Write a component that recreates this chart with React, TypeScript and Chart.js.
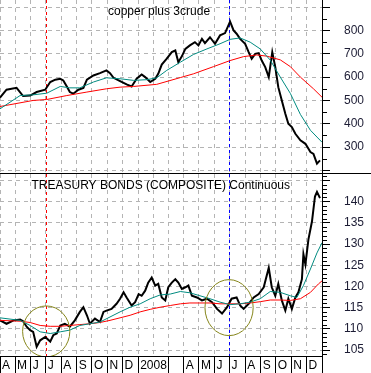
import { useEffect, useRef } from 'react';
import { Chart, registerables } from 'chart.js';

Chart.register(...registerables);

// ---------- data ----------
// x values are calendar days counted from 1 April 2007
const monthTickDays = [0, 30, 61, 91, 122, 153, 183, 214, 244, 275, 306, 335, 366, 396, 427, 457, 488, 519, 549, 580, 610];
const monthLabels = ['A', 'M', 'J', 'J', 'A', 'S', 'O', 'N', 'D', '2008', '', '', 'A', 'M', 'J', 'J', 'A', 'S', 'O', 'N', 'D'];

const copperDays = [0, 13, 33, 46, 60, 73, 90, 100, 110, 120, 126, 133, 139, 146, 156, 166, 173, 186, 199, 212, 219, 226, 239, 252, 262, 272, 282, 289, 299, 309, 315, 322, 332, 342, 349, 355, 362, 369, 378, 388, 395, 402, 408, 418, 428, 438, 448, 458, 465, 471, 478, 488, 495, 501, 508, 515, 521, 528, 535, 542, 548, 554, 561, 568, 574, 581, 588, 598, 608, 618, 624, 631, 637];
const copperValues = [512, 546, 554, 519, 521, 536, 546, 579, 589, 593, 586, 560, 536, 529, 546, 554, 589, 607, 617, 629, 617, 597, 583, 569, 560, 593, 611, 600, 579, 593, 614, 654, 679, 707, 714, 664, 689, 721, 736, 750, 736, 764, 746, 771, 743, 779, 789, 838, 800, 786, 764, 743, 707, 679, 700, 703, 671, 643, 600, 707, 643, 557, 500, 443, 400, 386, 357, 329, 314, 279, 271, 229, 243];

const copperTealDays = [0, 40, 66, 93, 120, 139, 159, 186, 212, 239, 266, 292, 312, 332, 359, 385, 412, 438, 458, 478, 498, 518, 538, 558, 578, 598, 618, 631, 641];
const copperTealValues = [464, 521, 524, 531, 560, 554, 554, 579, 597, 593, 586, 589, 597, 629, 664, 697, 721, 743, 762, 768, 750, 721, 673, 600, 530, 440, 372, 343, 321];

const copperRedDays = [0, 66, 93, 133, 173, 212, 239, 266, 312, 359, 385, 425, 458, 485, 511, 531, 558, 578, 598, 624, 641];
const copperRedValues = [474, 500, 504, 521, 536, 550, 557, 560, 569, 598, 614, 645, 671, 688, 695, 690, 674, 645, 600, 550, 514];

const bondDays = [0, 13, 27, 40, 46, 53, 60, 66, 73, 80, 90, 100, 106, 113, 120, 129, 139, 149, 159, 166, 173, 179, 189, 199, 206, 212, 222, 232, 239, 246, 252, 262, 269, 276, 282, 289, 295, 302, 309, 315, 322, 329, 335, 342, 349, 355, 362, 369, 375, 382, 392, 402, 412, 422, 432, 442, 452, 461, 471, 478, 485, 495, 505, 515, 525, 535, 541, 548, 554, 561, 568, 574, 581, 588, 594, 601, 604, 608, 614, 621, 627, 631, 637];
const bondValues = [112.0, 111.2, 112.0, 112.2, 111.8, 110.5, 109.7, 109.3, 105.8, 107.3, 108.1, 107.0, 108.5, 108.9, 110.8, 111.2, 110.5, 112.0, 114.0, 115.1, 113.2, 111.2, 112.4, 111.6, 114.0, 114.3, 114.7, 115.9, 117.1, 118.6, 117.4, 115.5, 116.3, 118.2, 117.8, 119.0, 120.9, 122.1, 120.2, 120.6, 117.4, 116.7, 119.8, 120.9, 121.7, 120.9, 119.4, 119.8, 120.2, 117.8, 117.4, 116.7, 117.1, 116.3, 114.7, 113.6, 115.1, 117.1, 117.4, 115.5, 114.7, 115.9, 117.4, 118.2, 119.8, 124.4, 119.8, 117.8, 120.6, 116.7, 114.3, 117.1, 114.7, 117.4, 118.6, 121.7, 127.6, 125.2, 131.1, 135.3, 141.2, 142.3, 140.8];

const bondTealDays = [0, 40, 60, 80, 100, 120, 139, 159, 179, 199, 219, 239, 259, 279, 299, 319, 339, 359, 378, 398, 418, 438, 458, 478, 498, 518, 538, 558, 578, 591, 604, 618, 631, 641];
const bondTealValues = [112.6, 112.0, 110.8, 109.3, 108.9, 109.3, 109.7, 110.8, 111.2, 111.6, 112.8, 114.0, 115.1, 115.9, 117.1, 118.0, 118.2, 118.8, 118.5, 117.8, 117.1, 116.3, 115.7, 115.9, 116.3, 117.1, 118.8, 118.6, 117.8, 117.4, 120.2, 124.1, 127.9, 130.3];

const bondRedDays = [0, 40, 60, 80, 100, 120, 139, 159, 179, 199, 219, 239, 259, 279, 299, 319, 339, 359, 378, 398, 418, 438, 458, 478, 498, 518, 538, 558, 578, 598, 618, 634, 641];
const bondRedValues = [112.0, 111.8, 111.5, 110.8, 110.6, 110.6, 110.8, 111.0, 111.2, 111.5, 112.0, 112.6, 113.2, 114.0, 114.6, 115.1, 115.5, 115.9, 116.1, 116.1, 116.1, 115.9, 115.9, 115.9, 116.1, 116.4, 116.8, 116.8, 116.7, 117.1, 118.6, 120.6, 121.3];

const copperTicks = [200, 300, 400, 500, 600, 700, 800, 900];
const copperLabels = [300, 400, 500, 600, 700, 800];
const copperMinor = [250, 350, 450, 550, 650, 750, 850];

const bondTicks = [105, 110, 115, 120, 125, 130, 135, 140, 145];
const bondLabels = [105, 110, 115, 120, 125, 130, 135, 140];
const bondMinor = [104, 106, 107, 108, 109, 111, 112, 113, 114, 116, 117, 118, 119, 121, 122, 123, 124, 126, 127, 128, 129, 131, 132, 133, 134, 136, 137, 138, 139, 141, 142, 143, 144, 146];

const markerDays = [91, 456];
const markerColors = ['#ff0000', '#0000ff'];

// ellipses: [centre day, centre value, radius days, radius value]
const circleCentreDays = [92, 456];
const circleCentreValues = [109.4, 115.0];
const circleRadiusDays = [47, 48];
const circleRadiusValues = [6.0, 6.6];

const topTitle = 'copper plus 3crude';
const bottomTitle = 'TREASURY BONDS (COMPOSITE) Continuous';

// ---------- styling ----------
const FONT = "'Liberation Sans', Arial, Helvetica, sans-serif";
const GRID = '#b4b4b4';
const LABEL = '#1c1c34';
const TEAL = '#008b80';
const RED = '#ff0000';
const OLIVE = '#85851a';
const W = 371;
const TOP_H = 174;
const BOT_H = 199;

const pairs = (xs: number[], ys: number[]) => xs.map((x, i) => ({ x, y: ys[i] }));

function lineDs(xs: number[], ys: number[], color: string, width: number) {
  return {
    data: pairs(xs, ys),
    borderColor: color,
    borderWidth: width,
    pointRadius: 0,
    tension: 0,
    fill: false,
  };
}

function drawMarkers(chart: any) {
  const { ctx, chartArea } = chart;
  const xs = chart.scales.x;
  ctx.save();
  ctx.lineWidth = 1;
  ctx.setLineDash([3, 3]);
  markerDays.forEach((d, i) => {
    const x = Math.round(xs.getPixelForValue(d)) + 0.5;
    ctx.strokeStyle = markerColors[i];
    ctx.beginPath();
    ctx.moveTo(x, chartArea.top);
    ctx.lineTo(x, chartArea.bottom);
    ctx.stroke();
  });
  ctx.restore();
}

function drawMinor(chart: any, values: number[]) {
  const { ctx } = chart;
  const ys = chart.scales.y;
  ctx.save();
  ctx.strokeStyle = '#000';
  ctx.lineWidth = 1;
  values.forEach((v) => {
    const y = Math.round(ys.getPixelForValue(v)) + 0.5;
    if (y < 0 || y > chart.chartArea.bottom) return;
    ctx.beginPath();
    ctx.moveTo(ys.left, y);
    ctx.lineTo(ys.left + 5, y);
    ctx.stroke();
  });
  ctx.restore();
}

function drawTitle(chart: any, text: string, x: number, y: number) {
  const { ctx } = chart;
  ctx.save();
  ctx.font = `12px ${FONT}`;
  ctx.fillStyle = '#000';
  ctx.textBaseline = 'alphabetic';
  ctx.textAlign = 'left';
  ctx.fillText(text, x, y);
  ctx.restore();
}

function yScale(min: number, max: number, ticks: number[], labels: number[]) {
  return {
    type: 'linear' as const,
    position: 'right' as const,
    min,
    max,
    afterBuildTicks: (s: any) => {
      s.ticks = ticks.map((v) => ({ value: v }));
    },
    afterFit: (s: any) => {
      s.width = W - 322;
      s.paddingTop = 0;
      s.paddingBottom = 0;
    },
    ticks: {
      autoSkip: false,
      padding: 14,
      color: LABEL,
      font: { family: FONT, size: 12 },
      callback: (v: any) => (labels.includes(Number(v)) ? String(v) : ''),
    },
    grid: { color: GRID, lineWidth: 1, drawTicks: true, tickLength: 8, tickColor: '#000', tickWidth: 1 },
    border: { display: true, color: '#000', width: 1, dash: [4, 4] },
  };
}

export default function App() {
  const topRef = useRef<HTMLCanvasElement | null>(null);
  const botRef = useRef<HTMLCanvasElement | null>(null);

  useEffect(() => {
    document.body.style.margin = '0';
    if (!topRef.current || !botRef.current) return;

    const topPlugin = {
      id: 'topOverlay',
      beforeDatasetsDraw: (chart: any) => drawMarkers(chart),
      afterDraw: (chart: any) => {
        drawMinor(chart, copperMinor);
        drawTitle(chart, topTitle, 108, 14.5);
        const { ctx } = chart;
        ctx.save();
        ctx.fillStyle = '#000';
        ctx.fillRect(0, TOP_H - 1, W, 1);
        ctx.restore();
      },
    };

    const botPlugin = {
      id: 'botOverlay',
      beforeDatasetsDraw: (chart: any) => drawMarkers(chart),
      afterDatasetsDraw: (chart: any) => {
        const { ctx, chartArea } = chart;
        const xs = chart.scales.x;
        const ys = chart.scales.y;
        ctx.save();
        ctx.beginPath();
        ctx.rect(chartArea.left, chartArea.top, chartArea.right - chartArea.left, chartArea.bottom - chartArea.top);
        ctx.clip();
        ctx.strokeStyle = OLIVE;
        ctx.lineWidth = 1;
        circleCentreDays.forEach((d, i) => {
          const cx = xs.getPixelForValue(d);
          const cy = ys.getPixelForValue(circleCentreValues[i]);
          const rx = Math.abs(xs.getPixelForValue(d + circleRadiusDays[i]) - cx);
          const ry = Math.abs(ys.getPixelForValue(circleCentreValues[i] + circleRadiusValues[i]) - cy);
          ctx.beginPath();
          ctx.ellipse(cx, cy, rx, ry, 0, 0, Math.PI * 2);
          ctx.stroke();
        });
        ctx.restore();
      },
      afterDraw: (chart: any) => {
        drawMinor(chart, bondMinor);
        drawTitle(chart, bottomTitle, 31.5, 15);
        const { ctx, chartArea } = chart;
        const ys = chart.scales.y;
        const x = Math.round(ys.left - 0.5) + 0.5;
        ctx.save();
        ctx.strokeStyle = '#000';
        ctx.lineWidth = 1;
        ctx.beginPath();
        ctx.moveTo(x, chartArea.bottom);
        ctx.lineTo(x, BOT_H);
        ctx.stroke();
        ctx.restore();
      },
    };

    const common = {
      animation: false as const,
      responsive: false,
      events: [] as any[],
      layout: { padding: 0 },
      plugins: { legend: { display: false }, tooltip: { enabled: false }, title: { display: false } },
    };

    const top = new Chart(topRef.current, {
      type: 'line',
      data: {
        datasets: [
          lineDs(copperTealDays, copperTealValues, TEAL, 1),
          lineDs(copperRedDays, copperRedValues, RED, 1),
          lineDs(copperDays, copperValues, '#000', 2),
        ],
      },
      options: {
        ...common,
        scales: {
          x: {
            type: 'linear',
            min: 0,
            max: 641,
            afterBuildTicks: (s: any) => {
              s.ticks = monthTickDays.map((v) => ({ value: v }));
            },
            afterFit: (s: any) => {
              s.height = 0;
              s.paddingLeft = 0;
              s.paddingRight = 0;
            },
            ticks: { display: false },
            grid: { color: GRID, drawTicks: false },
            border: { display: false, dash: [4, 4] },
          },
          y: yScale(184.6, 930.7, copperTicks, copperLabels),
        },
      } as any,
      plugins: [topPlugin],
    });

    const bottom = new Chart(botRef.current, {
      type: 'line',
      data: {
        datasets: [
          lineDs(bondTealDays, bondTealValues, TEAL, 1),
          lineDs(bondRedDays, bondRedValues, RED, 1),
          lineDs(bondDays, bondValues, '#000', 2),
        ],
      },
      options: {
        ...common,
        scales: {
          x: {
            type: 'linear',
            min: 0,
            max: 641,
            afterBuildTicks: (s: any) => {
              s.ticks = monthTickDays.map((v) => ({ value: v }));
            },
            afterFit: (s: any) => {
              s.height = 17;
              s.paddingLeft = 0;
              s.paddingRight = 0;
            },
            ticks: {
              autoSkip: false,
              maxRotation: 0,
              minRotation: 0,
              align: 'start',
              labelOffset: 2,
              padding: -15,
              color: '#000',
              font: { family: FONT, size: 12 },
              callback: (_v: any, i: number) => monthLabels[i],
            },
            grid: {
              color: GRID,
              drawTicks: true,
              tickLength: 17,
              tickWidth: 1,
              tickColor: (c: any) => (monthLabels[c.index - 1] === '2008' ? 'rgba(0,0,0,0)' : '#000'),
            },
            border: { display: true, color: '#000', width: 1, dash: [4, 4] },
          },
          y: yScale(103.6, 146.5, bondTicks, bondLabels),
        },
      } as any,
      plugins: [botPlugin],
    });

    return () => {
      top.destroy();
      bottom.destroy();
    };
  }, []);

  return (
    <div style={{ position: 'absolute', left: 0, top: 0, width: W, height: TOP_H + BOT_H, background: '#fff' }}>
      <canvas ref={topRef} width={W} height={TOP_H} style={{ display: 'block', width: W, height: TOP_H }} />
      <canvas ref={botRef} width={W} height={BOT_H} style={{ display: 'block', width: W, height: BOT_H }} />
    </div>
  );
}
